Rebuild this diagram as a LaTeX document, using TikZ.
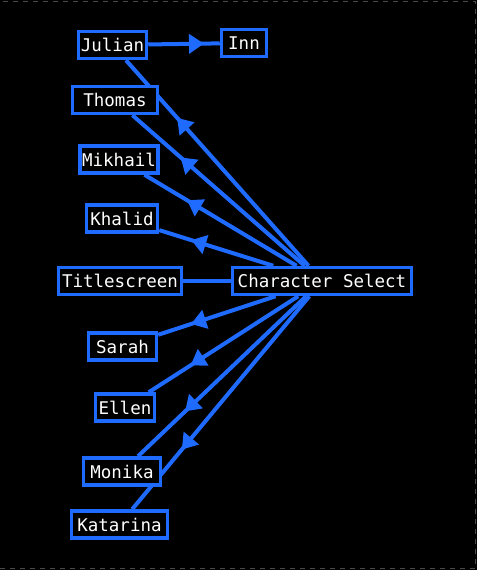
\documentclass[tikz,border=0pt]{standalone}
\usepackage{fontspec}
\setmonofont{DejaVu Sans Mono}
\usepackage{tikz}
\usetikzlibrary{arrows.meta,decorations.markings}
\definecolor{LinkBlue}{HTML}{1F6BFF}
\definecolor{FrameGray}{HTML}{4A4A4A}
\pgfdeclarelayer{back}
\pgfdeclarelayer{links}
\pgfsetlayers{back,links,main}

\begin{document}
\begin{tikzpicture}[x=1pt,y=-1pt,
  scene/.style={draw=LinkBlue,line width=3.5pt,fill=black,text=white,
    font=\ttfamily\fontsize{17.5}{20}\selectfont,inner sep=0pt,
    minimum height=27pt,minimum width=#1},
  link/.style={LinkBlue,line width=4pt,postaction={decorate},
    decoration={markings,mark=at position #1 with {\arrow{Triangle[length=15pt,width=19pt]}}}},
  link/.default=0.72,
  plain/.style={LinkBlue,line width=4pt}]
  \useasboundingbox (0,0) rectangle (477,570);
  \begin{pgfonlayer}{back}
    \fill[black] (0,0) rectangle (477,570);
    \draw[FrameGray,line width=1pt,dash pattern=on 5pt off 5pt] (-3,1.5) rectangle (475.5,568.5);
  \end{pgfonlayer}
  % scenes
  \node[scene=68]  (julian)   at (112.5,45)  {Julian};
  \node[scene=45]  (inn)      at (244,43)    {Inn};
  \node[scene=85]  (thomas)   at (115,100)   {Thomas};
  \node[scene=78]  (mikhail)  at (119,159.5) {Mikhail};
  \node[scene=71]  (khalid)   at (122,218.5) {Khalid};
  \node[scene=123] (title)    at (120,281)   {Titlescreen};
  \node[scene=179] (select)   at (322,281)   {Character Select};
  \node[scene=68]  (sarah)    at (122.5,346.5) {Sarah};
  \node[scene=59]  (ellen)    at (125,407.5) {Ellen};
  \node[scene=77]  (monika)   at (122,471.5) {Monika};
  \node[scene=96]  (katarina) at (119.5,524.5) {Katarina};
  % links
  \begin{pgfonlayer}{links}
    \foreach \who in {julian,thomas,mikhail,khalid,sarah,ellen,monika,katarina}
      {\draw[link] (select) -- (\who);}
    \draw[link=0.78] (julian) -- (inn);
    \draw[plain] (title) -- (select);
  \end{pgfonlayer}
\end{tikzpicture}
\end{document}
